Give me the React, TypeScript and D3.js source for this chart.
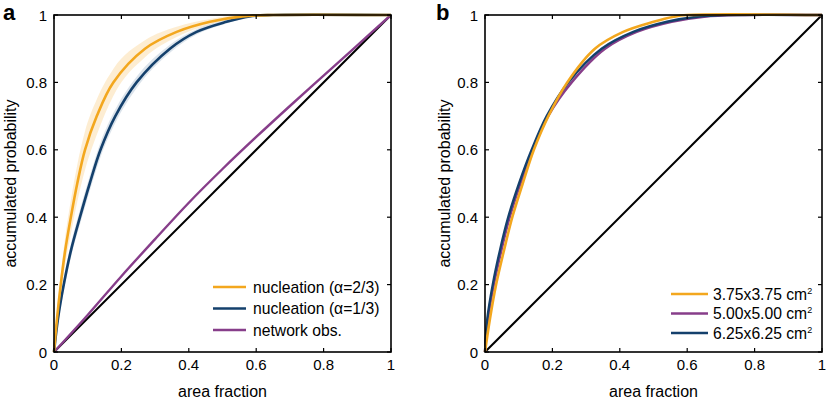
import React from "react";
import * as d3 from "d3";

// ---------- data ----------
const ticks = [0, 0.2, 0.4, 0.6, 0.8, 1];
const tickLabels = ["0", "0.2", "0.4", "0.6", "0.8", "1"];

// panel a (x positions read at fixed probability levels)
const levels = [0, 0.1, 0.2, 0.3, 0.4, 0.5, 0.6, 0.7, 0.8, 0.9, 0.95, 0.98, 0.996, 1, 1];
const orangeXA = [0, 0.009, 0.02, 0.033, 0.05, 0.069, 0.092, 0.127, 0.176, 0.27, 0.364, 0.463, 0.56, 0.65, 1];
const orangeLoA = [0, 0.08, 0.17, 0.26, 0.35, 0.445, 0.54, 0.645, 0.76, 0.875, 0.935, 0.972, 0.993, 1, 1];
const orangeHiA = [0, 0.12, 0.23, 0.34, 0.45, 0.555, 0.655, 0.75, 0.84, 0.925, 0.965, 0.988, 0.999, 1, 1];
const blueXA = [0, 0.012, 0.029, 0.05, 0.077, 0.106, 0.138, 0.182, 0.245, 0.344, 0.423, 0.512, 0.58, 0.65, 1];
const blueLoA = [0, 0.085, 0.18, 0.28, 0.378, 0.478, 0.578, 0.68, 0.783, 0.888, 0.942, 0.975, 0.993, 1, 1];
const blueHiA = [0, 0.115, 0.22, 0.32, 0.422, 0.522, 0.622, 0.72, 0.817, 0.912, 0.958, 0.985, 0.998, 1, 1];
const xsNet = [0, 0.1, 0.2, 0.3, 0.4, 0.5, 0.6, 0.7, 0.8, 0.9, 1];
const networkA = [0, 0.11, 0.225, 0.335, 0.443, 0.543, 0.638, 0.73, 0.82, 0.91, 1];

// panel b
const levelsB = [0, 0.1, 0.2, 0.3, 0.4, 0.5, 0.6, 0.7, 0.8, 0.9, 0.95, 0.98, 0.995, 1, 1];
const size375X = [0, 0.015, 0.033, 0.056, 0.081, 0.112, 0.145, 0.188, 0.244, 0.326, 0.41, 0.5, 0.56, 0.6, 1];
const size500X = [0, 0.009, 0.026, 0.048, 0.073, 0.105, 0.142, 0.187, 0.257, 0.356, 0.45, 0.554, 0.65, 0.757, 1];
const size625X = [0, 0.007, 0.023, 0.044, 0.069, 0.101, 0.1385, 0.183, 0.247, 0.346, 0.44, 0.54, 0.63, 0.73, 1];
const diag = [0, 1];

const legendA = ["nucleation (\u03b1=2/3)", "nucleation (\u03b1=1/3)", "network obs."];
const legendB = ["3.75x3.75 cm", "5.00x5.00 cm", "6.25x6.25 cm"];

const ORANGE = "#F3A71E";
const NAVY = "#14406C";
const PURPLE = "#873E8A";
const FONT = "'Liberation Sans', Arial, Helvetica, sans-serif";

type Pt = [number, number];
const zip = (xs: number[], ys: number[]): Pt[] => xs.map((x, i) => [x, ys[i]]);

function Panel({ left, label, ylabOff, children }: { left: number; label: string; ylabOff: number; children: (x: d3.ScaleLinear<number, number>, y: d3.ScaleLinear<number, number>) => React.ReactNode }) {
  const x = d3.scaleLinear().domain([0, 1]).range([left, left + 337]);
  const y = d3.scaleLinear().domain([0, 1]).range([352, 15]);
  const tl = 4;
  return (
    <g>
      <g>{children(x, y)}</g>
      <rect x={x(0)} y={y(1)} width={x(1) - x(0)} height={y(0) - y(1)} fill="none" stroke="#000" strokeWidth={1.6} />
      {ticks.map((t, i) => (
        <g key={"t" + i}>
          <line x1={x(t)} x2={x(t)} y1={y(0)} y2={y(0) - tl} stroke="#000" strokeWidth={1.2} />
          <line x1={x(t)} x2={x(t)} y1={y(1)} y2={y(1) + tl} stroke="#000" strokeWidth={1.2} />
          <line x1={x(0)} x2={x(0) + tl} y1={y(t)} y2={y(t)} stroke="#000" strokeWidth={1.2} />
          <line x1={x(1)} x2={x(1) - tl} y1={y(t)} y2={y(t)} stroke="#000" strokeWidth={1.2} />
          <text x={x(t)} y={370} textAnchor="middle" fontSize={15} fontFamily={FONT}>{tickLabels[i]}</text>
          <text x={x(0) - 7} y={y(t) + 5.5} textAnchor="end" fontSize={15} fontFamily={FONT}>{tickLabels[i]}</text>
        </g>
      ))}
      <text x={(x(0) + x(1)) / 2} y={396.5} textAnchor="middle" fontSize={16} fontFamily={FONT}>area fraction</text>
      <text transform={`translate(${x(0) - ylabOff},${(y(0) + y(1)) / 2}) rotate(-90)`} textAnchor="middle" fontSize={16} fontFamily={FONT}>accumulated probability</text>
      <text x={label === "a" ? 3 : 436} y={20} fontSize={22} fontWeight="bold" fontFamily={FONT}>{label}</text>
    </g>
  );
}

export default function App() {
  const curve = d3.curveCatmullRom.alpha(0.5);
  const mk = (x: any, y: any) => d3.line<Pt>().x((d) => x(d[0])).y((d) => y(d[1])).curve(curve);
  const mkArea = (x: any, y: any) =>
    d3.area<[number, number, number]>().x((d) => x(d[0])).y0((d) => y(d[1])).y1((d) => y(d[2])).curve(d3.curveMonotoneX);
  return (
    <svg width={827} height={406} style={{ position: "absolute", left: 0, top: 0, background: "#fff" }}>
      <Panel left={54} label="a" ylabOff={38.5}>
        {(x, y) => {
          const line = mk(x, y);
          const area = mkArea(x, y);
          const oBand = orangeXA.map((v, i) => [v, orangeLoA[i], orangeHiA[i]] as [number, number, number]);
          const bBand = blueXA.map((v, i) => [v, blueLoA[i], blueHiA[i]] as [number, number, number]);
          return (
            <g>
              <path d={area(oBand) || ""} fill={ORANGE} opacity={0.2} />
              <path d={area(bBand) || ""} fill="#6f8fb0" opacity={0.25} />
              <path d={line(zip(diag, diag)) || ""} stroke="#000" strokeWidth={2} fill="none" />
              <path d={line(zip(xsNet, networkA)) || ""} stroke={PURPLE} strokeWidth={2.4} fill="none" />
              <path d={line(zip(blueXA, levels)) || ""} stroke={NAVY} strokeWidth={2.6} fill="none" />
              <path d={line(zip(orangeXA, levels)) || ""} stroke={ORANGE} strokeWidth={2.6} fill="none" />
              {legendA.map((t, i) => (
                <g key={t}>
                  <line x1={213} x2={246} y1={287 + i * 21.5} y2={287 + i * 21.5} stroke={[ORANGE, NAVY, PURPLE][i]} strokeWidth={2.6} />
                  <text x={253} y={292.5 + i * 21.5} fontSize={15.7} fontFamily={FONT}>{t}</text>
                </g>
              ))}
            </g>
          );
        }}
      </Panel>
      <Panel left={485} label="b" ylabOff={35}>
        {(x, y) => {
          const line = mk(x, y);
          return (
            <g>
              <path d={line(zip(diag, diag)) || ""} stroke="#000" strokeWidth={2} fill="none" />
              <path d={line(zip(size500X, levelsB)) || ""} stroke={PURPLE} strokeWidth={2.6} fill="none" />
              <path d={line(zip(size625X, levelsB)) || ""} stroke={NAVY} strokeWidth={2.4} fill="none" />
              <path d={line(zip(size375X, levelsB)) || ""} stroke={ORANGE} strokeWidth={2.6} fill="none" />
              {legendB.map((t, i) => (
                <g key={t}>
                  <line x1={671} x2={708} y1={294 + i * 19.5} y2={294 + i * 19.5} stroke={[ORANGE, PURPLE, NAVY][i]} strokeWidth={2.6} />
                  <text x={713} y={299.5 + i * 19.5} fontSize={15.7} fontFamily={FONT}>
                    {t}
                    <tspan fontSize={9} dy={-6}>2</tspan>
                  </text>
                </g>
              ))}
            </g>
          );
        }}
      </Panel>
    </svg>
  );
}
